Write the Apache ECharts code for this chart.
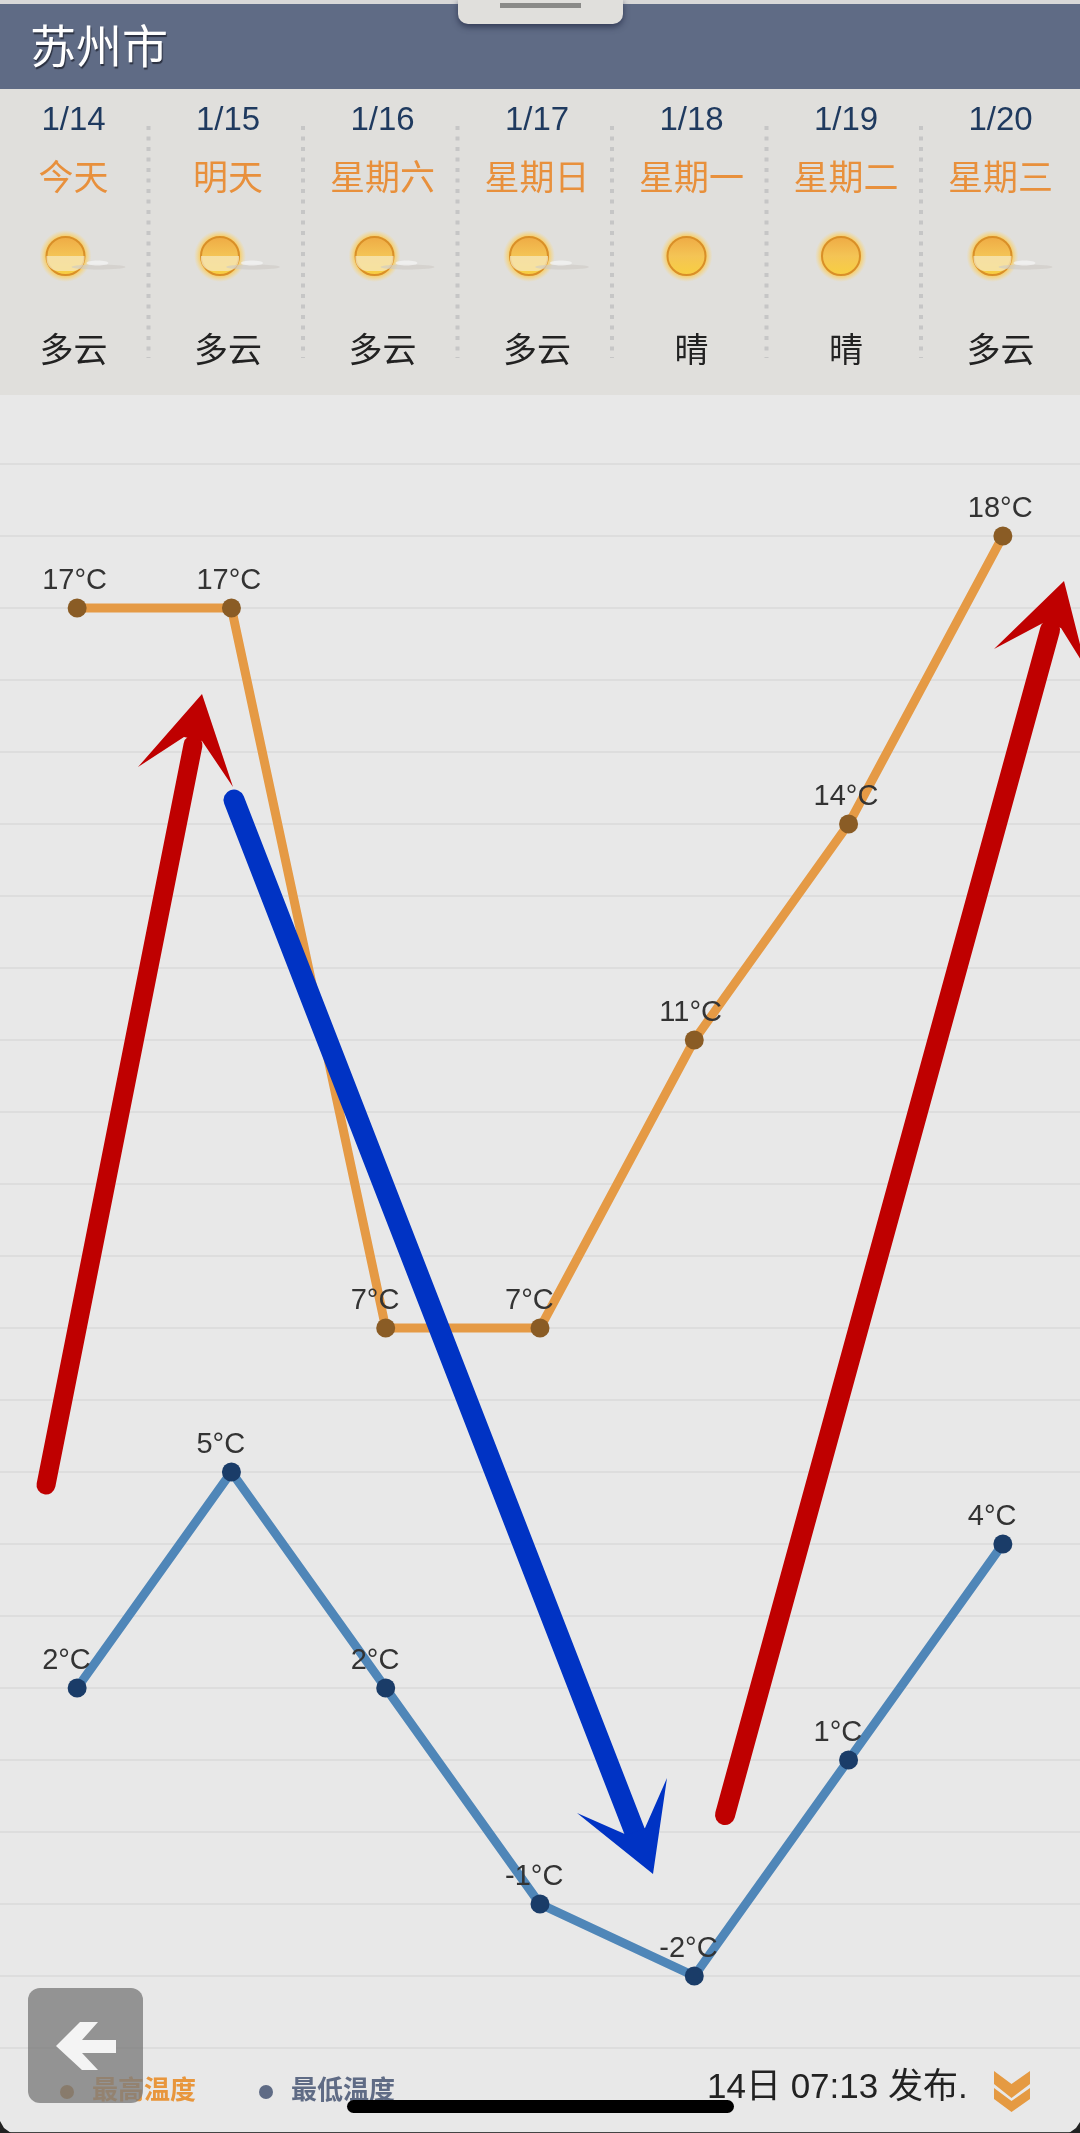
<!DOCTYPE html>
<html>
<head>
<meta charset="utf-8">
<title>苏州市</title>
<script src="https://cdn.jsdelivr.net/npm/echarts@6/dist/echarts.min.js"></script>
<style>
html, body { margin: 0; padding: 0; background: #e8e8e8; }
#chart { width: 1080px; height: 2133px; }
</style>
</head>
<body>
<div id="chart"></div>
<script>
var cityName = '苏州市';
var dates = ['1/14', '1/15', '1/16', '1/17', '1/18', '1/19', '1/20'];
var weekdays = ['今天', '明天', '星期六', '星期日', '星期一', '星期二', '星期三'];
var conditions = ['多云', '多云', '多云', '多云', '晴', '晴', '多云'];
var highTemps = [17, 17, 7, 7, 11, 14, 18];
var lowTemps = [2, 5, 2, -1, -2, 1, 4];
var highName = '最高温度';
var lowName = '最低温度';
var publishText = '14日 07:13 发布.';

var font = "'Liberation Sans','Noto Sans CJK SC',sans-serif";
var chart = echarts.init(document.getElementById('chart'), null, { renderer: 'canvas' });

function headText(x, y, text, size, color, align, extra) {
	var style = {
		x: x, y: y, text: text, fill: color,
		font: size + 'px ' + font,
		textAlign: align || 'center', textVerticalAlign: 'middle'
	};
	for (var k in extra) style[k] = extra[k];
	return { type: 'text', z: 20, style: style };
}

function poly(points, color, z) {
	return { type: 'polygon', z: z || 100, shape: { points: points }, style: { fill: color } };
}

// 手绘箭头: 杆 + 箭头
function arrow(x1, y1, x2, y2, head, color, width) {
	return [
		{
			type: 'line', z: 100,
			shape: { x1: x1, y1: y1, x2: x2, y2: y2 },
			style: { stroke: color, lineWidth: width, lineCap: 'round' }
		},
		poly(head, color)
	];
}

function sun(cx, cy, cloudy) {
	var list = [
		{
			type: 'circle', z: 10, shape: { cx: cx, cy: cy, r: 26 },
			style: {
				fill: new echarts.graphic.RadialGradient(0.5, 0.5, 0.5, [
					{ offset: 0.72, color: 'rgba(250,200,80,1)' },
					{ offset: 1, color: 'rgba(250,215,120,0)' }
				])
			}
		},
		{
			type: 'circle', z: 11, shape: { cx: cx, cy: cy, r: 19 },
			style: {
				stroke: '#d98f28', lineWidth: 2,
				fill: new echarts.graphic.LinearGradient(0, 0, 0, 1, [
					{ offset: 0, color: '#eeaa44' },
					{ offset: 0.5, color: '#f4c455' },
					{ offset: 1, color: '#f8d040' }
				])
			}
		}
	];
	if (cloudy) {
		list.push({
			type: 'rect', z: 12,
			shape: { x: cx - 19, y: cy, width: 38, height: 15, r: [0, 0, 12, 12] },
			style: { fill: 'rgba(245,232,190,0.75)' }
		});
		list.push({
			type: 'ellipse', z: 12,
			shape: { cx: cx + 33, cy: cy + 11, rx: 27, ry: 2.5 },
			style: { fill: 'rgba(205,202,196,0.6)' }
		});
		list.push({
			type: 'ellipse', z: 13,
			shape: { cx: cx + 32, cy: cy + 7, rx: 11, ry: 2.5 },
			style: { fill: 'rgba(245,245,245,0.7)' }
		});
	}
	return list;
}

var gfx = [
	{ type: 'rect', z: 1, shape: { x: 0, y: 0, width: 1080, height: 395 }, style: { fill: '#e0dfdc' } },
	{ type: 'rect', z: 2, shape: { x: 0, y: 0, width: 1080, height: 4 }, style: { fill: '#d8d8d8' } },
	{ type: 'rect', z: 2, shape: { x: 0, y: 4, width: 1080, height: 85 }, style: { fill: '#5f6b85' } },
	{
		type: 'rect', z: 4,
		shape: { x: 458, y: 0, width: 165, height: 24, r: [0, 0, 10, 10] },
		style: { fill: '#e0dfdc', shadowColor: 'rgba(40,48,75,0.8)', shadowBlur: 6, shadowOffsetY: 3 }
	},
	{ type: 'rect', z: 5, shape: { x: 500, y: 3, width: 81, height: 5 }, style: { fill: '#8a8a88' } },
	headText(30, 50, cityName, 46, '#ffffff', 'left', { textShadowColor: '#2a3040', textShadowBlur: 1, textShadowOffsetX: 1, textShadowOffsetY: 2 }),
	headText(707, 2088, publishText, 35, '#222222', 'left'),
	// 返回按钮
	{ type: 'rect', z: 100, shape: { x: 28, y: 1988, width: 115, height: 115, r: 12 }, style: { fill: 'rgba(125,125,125,0.8)' } },
	poly([[56, 2046], [80, 2022], [98, 2022], [82, 2040], [116, 2040], [116, 2053], [82, 2053], [98, 2070], [82, 2070]], '#f4f4f4', 101),
	// 底部
	{ type: 'rect', z: 100, shape: { x: 347, y: 2100, width: 387, height: 13, r: 6.5 }, style: { fill: '#000000' } },
	{ type: 'rect', z: 100, shape: { x: 0, y: 2132, width: 1080, height: 1 }, style: { fill: '#444444' } },
	poly([[0, 2121], [4, 2128], [11, 2133], [0, 2133]], '#222222'),
	poly([[1080, 2122], [1076, 2128], [1069, 2133], [1080, 2133]], '#222222'),
	poly([[994, 2071], [1011.5, 2084], [1030, 2071], [1030, 2084], [1011.5, 2098], [994, 2084]], '#e59a42'),
	poly([[994, 2088], [1011.5, 2101], [1030, 2088], [1030, 2099], [1011.5, 2112], [994, 2099]], '#e59a42')
];

dates.forEach(function (d, i) {
	var cx = 73.5 + 154.5 * i;
	gfx.push(headText(cx, 121, d, 33, '#1f3a5f'));
	gfx.push(headText(cx, 180, weekdays[i], 35, '#e8903c'));
	gfx.push(headText(cx, 353, conditions[i], 34, '#222222'));
	var cloudy = conditions[i] === '多云';
	gfx = gfx.concat(sun(cx + (cloudy ? -8 : -5), 256, cloudy));
	if (i < dates.length - 1) {
		gfx.push({
			type: 'line', z: 5,
			shape: { x1: 148.5 + 154.5 * i, y1: 126, x2: 148.5 + 154.5 * i, y2: 358 },
			style: { stroke: '#c6c6c6', lineWidth: 4, lineDash: [4, 6.5] }
		});
	}
});

gfx = gfx.concat(
	arrow(46, 1485, 193, 745, [[202, 694], [233, 787], [202, 741], [184, 737], [138, 767]], '#bf0000', 19),
	arrow(234, 800, 636, 1835, [[653, 1874], [577, 1813], [627, 1835], [645, 1828], [667, 1778]], '#0033c4', 21),
	arrow(725, 1815, 1050, 630, [[1064, 581], [994, 649], [1043, 623], [1061, 628], [1086, 668]], '#bf0000', 20)
);

var option = {
	animation: false,
	backgroundColor: '#e8e8e8',
	textStyle: { fontFamily: font },
	grid: { left: 0, right: 0, top: 464, bottom: 85 },
	legend: {
		left: 55, top: 2074,
		itemWidth: 14, itemHeight: 14, itemGap: 63,
		icon: 'circle',
		data: [
			{ name: highName, itemStyle: { color: '#b5752a' }, textStyle: { color: '#e8963c' } },
			{ name: lowName, itemStyle: { color: '#5f6b85' }, textStyle: { color: '#5f6b85' } }
		],
		textStyle: { fontSize: 26, fontWeight: 'bold', padding: [0, 0, 0, 13], fontFamily: font }
	},
	xAxis: {
		type: 'category',
		data: dates,
		axisLine: { show: false },
		axisTick: { show: false },
		axisLabel: { show: false },
		splitLine: { show: false }
	},
	yAxis: {
		type: 'value',
		min: -3,
		max: 19,
		interval: 1,
		axisLine: { show: false },
		axisTick: { show: false },
		axisLabel: { show: false },
		splitLine: { show: true, lineStyle: { color: '#dddddd', width: 2 } }
	},
	series: [
		{
			name: highName,
			type: 'line',
			data: highTemps,
			symbol: 'circle',
			symbolSize: 19,
			lineStyle: { color: '#e59a45', width: 9 },
			itemStyle: { color: '#8a5c25' },
			label: {
				show: true, position: 'top', align: 'left', distance: 6, offset: [-35, 3],
				formatter: '{c}°C', fontSize: 29, color: '#333333', fontFamily: font
			}
		},
		{
			name: lowName,
			type: 'line',
			data: lowTemps,
			symbol: 'circle',
			symbolSize: 19,
			lineStyle: { color: '#4f86b8', width: 9 },
			itemStyle: { color: '#1a3c68' },
			label: {
				show: true, position: 'top', align: 'left', distance: 6, offset: [-35, 3],
				formatter: '{c}°C', fontSize: 29, color: '#333333', fontFamily: font
			}
		}
	],
	graphic: { elements: gfx }
};
chart.setOption(option);
</script>
</body>
</html>
